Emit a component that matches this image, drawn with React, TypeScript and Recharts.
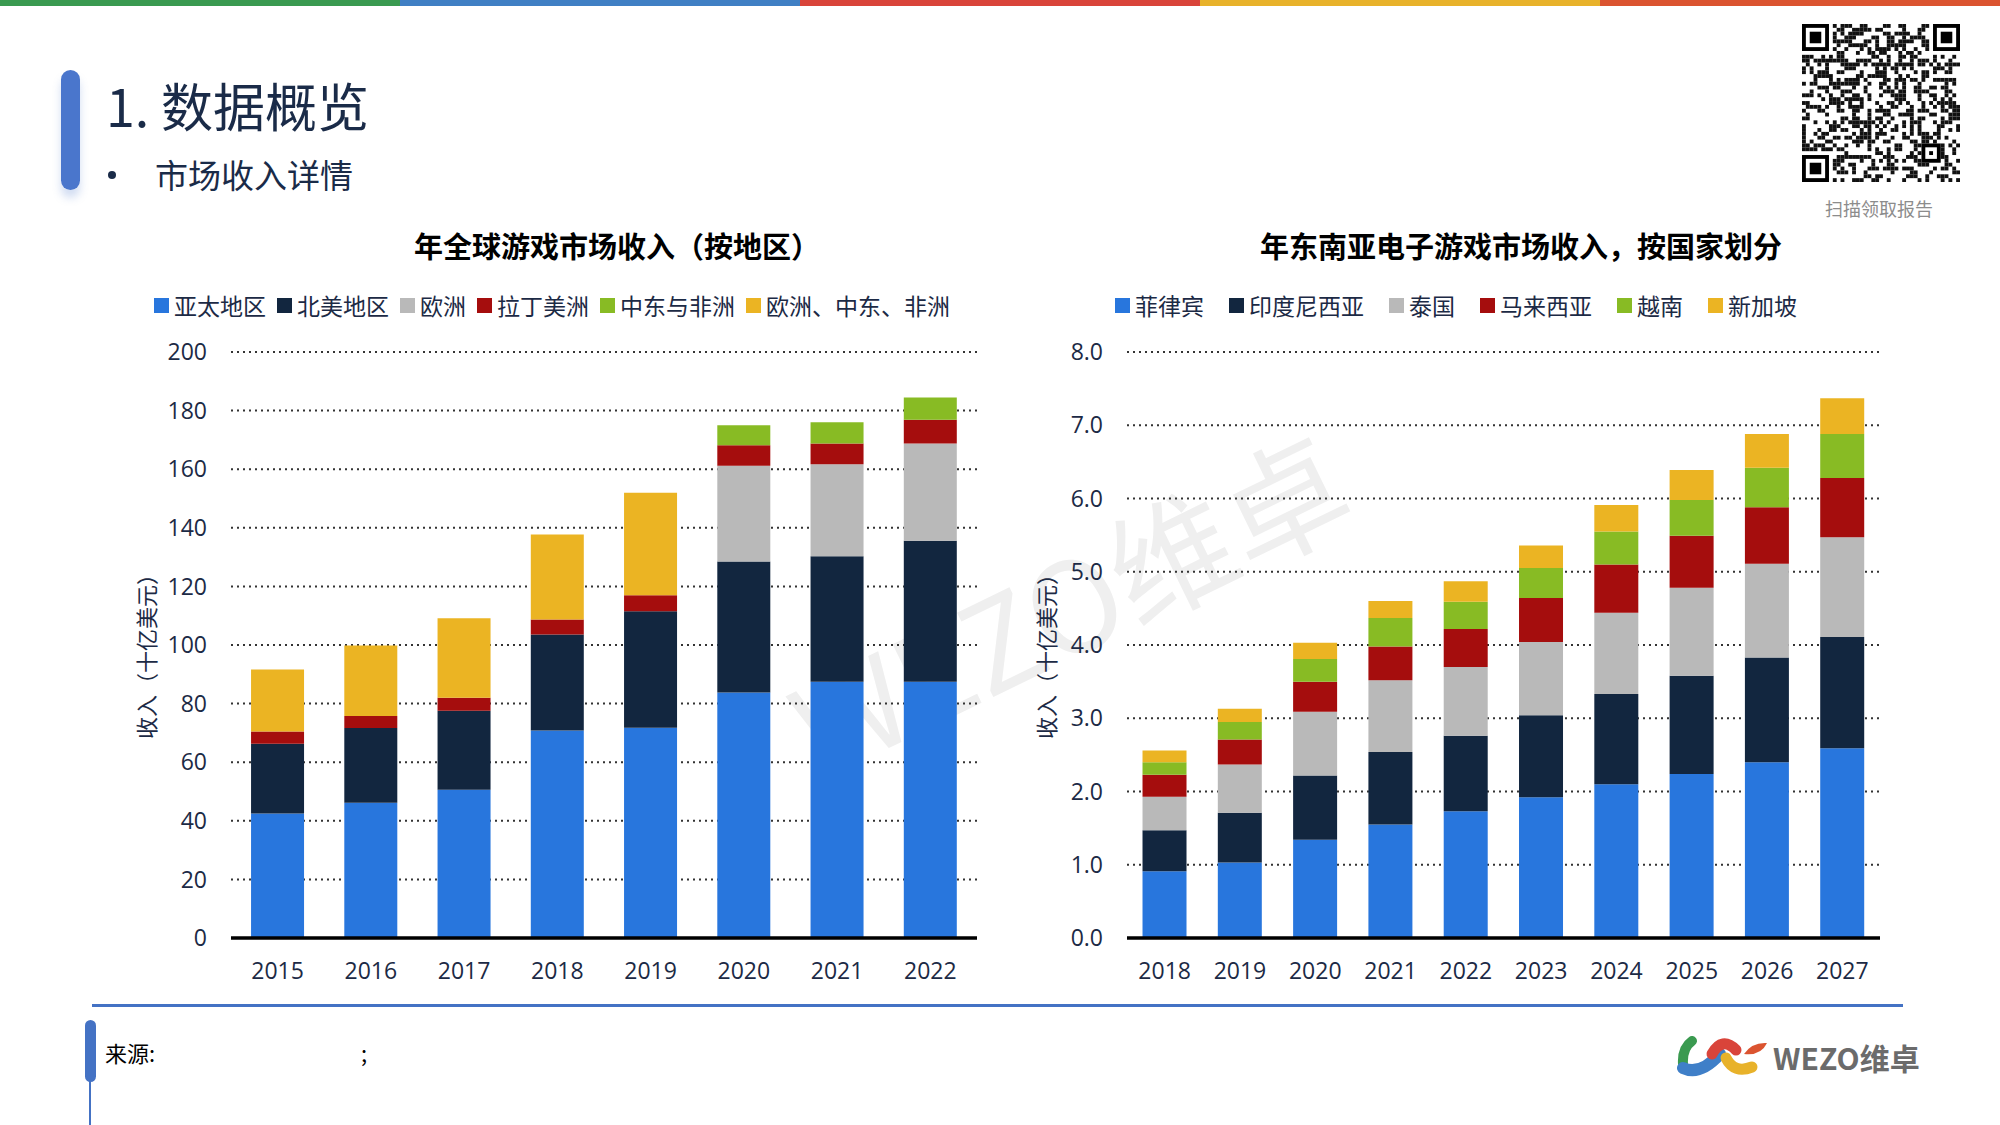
import React from 'react';
import { BarChart, Bar, XAxis, YAxis, CartesianGrid, Legend } from 'recharts';

// ---------- Data: global game market revenue by region (billion USD) ----------
const GLOBAL_YEARS = ['2015', '2016', '2017', '2018', '2019', '2020', '2021', '2022'];
const APAC = [42.5, 46.2, 50.6, 70.8, 71.8, 83.8, 87.5, 87.5];
const NORTH_AMERICA = [23.8, 25.5, 27.0, 32.8, 39.7, 44.7, 42.8, 48.1];
const EUROPE = [0, 0, 0, 0, 0, 32.7, 31.4, 33.2];
const LATAM = [4.2, 4.1, 4.4, 5.1, 5.5, 7.0, 7.1, 8.1];
const MEA = [0, 0, 0, 0, 0, 6.8, 7.2, 7.6];
const EMEA = [21.1, 24.0, 27.1, 29.0, 35.0, 0, 0, 0];
const GLOBAL_TICKS = [0, 20, 40, 60, 80, 100, 120, 140, 160, 180, 200];

// ---------- Data: Southeast Asia video game revenue by country (billion USD) ----------
const SEA_YEARS = ['2018', '2019', '2020', '2021', '2022', '2023', '2024', '2025', '2026', '2027'];
const PHILIPPINES = [0.91, 1.03, 1.34, 1.55, 1.73, 1.92, 2.10, 2.24, 2.40, 2.59];
const INDONESIA = [0.56, 0.68, 0.88, 0.99, 1.03, 1.12, 1.23, 1.34, 1.43, 1.52];
const THAILAND = [0.46, 0.66, 0.87, 0.98, 0.94, 1.00, 1.11, 1.20, 1.28, 1.36];
const MALAYSIA = [0.30, 0.34, 0.41, 0.46, 0.52, 0.60, 0.66, 0.71, 0.77, 0.81];
const VIETNAM = [0.17, 0.24, 0.31, 0.39, 0.37, 0.41, 0.45, 0.49, 0.54, 0.60];
const SINGAPORE = [0.16, 0.18, 0.22, 0.23, 0.28, 0.31, 0.36, 0.41, 0.46, 0.49];
const SEA_TICKS = [0, 1, 2, 3, 4, 5, 6, 7, 8];

const COLORS = ['#2876dd', '#12263f', '#b9b9b9', '#a50d0d', '#88bb24', '#ebb423'];

const GLOBAL_SERIES = [
  { key: 'apac', name: '亚太地区', values: APAC },
  { key: 'na', name: '北美地区', values: NORTH_AMERICA },
  { key: 'eu', name: '欧洲', values: EUROPE },
  { key: 'latam', name: '拉丁美洲', values: LATAM },
  { key: 'mea', name: '中东与非洲', values: MEA },
  { key: 'emea', name: '欧洲、中东、非洲', values: EMEA },
];
const SEA_SERIES = [
  { key: 'ph', name: '菲律宾', values: PHILIPPINES },
  { key: 'id', name: '印度尼西亚', values: INDONESIA },
  { key: 'th', name: '泰国', values: THAILAND },
  { key: 'my', name: '马来西亚', values: MALAYSIA },
  { key: 'vn', name: '越南', values: VIETNAM },
  { key: 'sg', name: '新加坡', values: SINGAPORE },
];

const FONT = '"Open Sans", "Noto Sans CJK SC", sans-serif';
const CJK = '"Noto Sans CJK SC", "Open Sans", sans-serif';
const NAVY = '#1c2a45';

function buildRows(years: string[], series: { key: string; values: number[] }[]) {
  return years.map((y, i) => {
    const row: Record<string, any> = { year: y };
    series.forEach((s) => (row[s.key] = s.values[i]));
    return row;
  });
}

const makeLegend = (gap: number, order: string[]) => (props: any) => {
  const payload = [...(props.payload || [])].sort(
    (a: any, b: any) => order.indexOf(String(a.dataKey)) - order.indexOf(String(b.dataKey))
  );
  return (
    <div style={{ display: 'flex', justifyContent: 'center', alignItems: 'center', whiteSpace: 'nowrap', fontFamily: CJK }}>
      {payload.map((p: any, i: number) => (
        <div key={i} style={{ display: 'flex', alignItems: 'center', marginRight: i < payload.length - 1 ? gap : 0 }}>
          <span style={{ display: 'inline-block', width: 15, height: 15, background: p.color, marginRight: 5 }} />
          <span style={{ fontSize: 23, color: NAVY, lineHeight: '26px' }}>{p.value}</span>
        </div>
      ))}
    </div>
  );
};

const yTitle = (props: any) => {
  const vb = props.viewBox || { x: 0, y: 0, width: 0, height: 0 };
  const cx = vb.x + 45;
  const cy = vb.y + vb.height / 2 + 6;
  return (
    <text x={cx} y={cy} transform={`rotate(-90, ${cx}, ${cy})`} textAnchor="middle" dominantBaseline="central"
      fill={NAVY} fontSize={22} fontFamily={CJK}>
      收入（十亿美元）
    </text>
  );
};

function StackedChart(p: {
  rows: any[]; series: { key: string; name: string }[]; left: number; yWidth: number; marginRight: number;
  domain: [number, number]; ticks: number[]; fmt: (v: number) => string; catGap: string; legendGap: number; legendLeft: number;
}) {
  const order = p.series.map((s) => s.key);
  return (
    <div style={{ position: 'absolute', left: p.left, top: 280 }}>
      <BarChart width={900} height={720} data={p.rows} margin={{ top: 72, right: p.marginRight, bottom: 0, left: 0 }}
        barCategoryGap={p.catGap}>
        <CartesianGrid vertical={false} stroke="#333" strokeWidth={2} strokeDasharray="2 4" />
        <XAxis dataKey="year" interval={0} height={62} tickLine={false} tickSize={0} tickMargin={25}
          axisLine={{ stroke: '#000', strokeWidth: 3.5 }} tick={{ fill: NAVY, fontSize: 23, fontFamily: FONT }} />
        <YAxis domain={p.domain} ticks={p.ticks} tickFormatter={p.fmt} width={p.yWidth} axisLine={false}
          tickLine={false} tickSize={0} tickMargin={24} interval={0} allowDataOverflow
          tick={{ fill: NAVY, fontSize: 23, fontFamily: FONT }} label={{ content: yTitle }} />
        <Legend layout="horizontal" verticalAlign="middle" align="center" content={makeLegend(p.legendGap, order)}
          wrapperStyle={{ top: 12, left: p.legendLeft, width: 900, height: 26 }} />
        {p.series.map((s, i) => (
          <Bar key={s.key} dataKey={s.key} name={s.name} stackId="a" fill={COLORS[i]} isAnimationActive={false} />
        ))}
      </BarChart>
    </div>
  );
}

function QRCode() {
  const N = 41;
  const m = 158 / N;
  const cells: React.ReactElement[] = [];
  const inFinder = (r: number, c: number) =>
    (r < 8 && c < 8) || (r < 8 && c >= N - 8) || (r >= N - 8 && c < 8);
  const finder = (r0: number, c0: number, k: string) => (
    <g key={k}>
      <rect x={c0 * m} y={r0 * m} width={7 * m} height={7 * m} fill="#000" />
      <rect x={(c0 + 1) * m} y={(r0 + 1) * m} width={5 * m} height={5 * m} fill="#fff" />
      <rect x={(c0 + 2) * m} y={(r0 + 2) * m} width={3 * m} height={3 * m} fill="#000" />
    </g>
  );
  const hash = (r: number, c: number) => {
    let h = (r * 374761393 + c * 668265263) | 0;
    h = Math.imul(h ^ (h >>> 13), 1274126177);
    h = h ^ (h >>> 16);
    return (h >>> 0) % 100;
  };
  for (let r = 0; r < N; r++) {
    for (let c = 0; c < N; c++) {
      if (inFinder(r, c)) continue;
      if (r >= N - 10 && r < N - 5 && c >= N - 10 && c < N - 5) continue;
      if (hash(r, c) < 45) cells.push(<rect key={`${r}-${c}`} x={c * m} y={r * m} width={m} height={m} fill="#111" />);
    }
  }
  const a = N - 10;
  return (
    <svg width={160} height={160} style={{ position: 'absolute', left: 1802, top: 24 }}>
      <rect width={160} height={160} fill="#fff" />
      {cells}
      {finder(0, 0, 'f1')}
      {finder(0, N - 7, 'f2')}
      {finder(N - 7, 0, 'f3')}
      <rect x={a * m} y={a * m} width={5 * m} height={5 * m} fill="#000" />
      <rect x={(a + 1) * m} y={(a + 1) * m} width={3 * m} height={3 * m} fill="#fff" />
      <rect x={(a + 2) * m} y={(a + 2) * m} width={m} height={m} fill="#000" />
    </svg>
  );
}

function Logo() {
  return (
    <div style={{ position: 'absolute', left: 1676, top: 1036 }}>
      <svg width={96} height={42} style={{ position: 'absolute', left: 0, top: 0 }}>
        <path d="M7 28 Q6 12 16 5" stroke="#3a9a50" strokeWidth={10} fill="none" strokeLinecap="round" />
        <path d="M7 32 Q24 40 44 18" stroke="#3f7fc8" strokeWidth={12} fill="none" strokeLinecap="round" />
        <path d="M36 18 Q46 0 60 14" stroke="#d9443a" strokeWidth={11} fill="none" strokeLinecap="round" />
        <path d="M50 22 Q58 38 76 31" stroke="#e8b22a" strokeWidth={11} fill="none" strokeLinecap="round" />
        <path d="M68 18 Q76 6 91 7 Q85 20 68 18 Z" fill="#db5430" />
      </svg>
      <div style={{ position: 'absolute', left: 97, top: 3, fontFamily: CJK, fontSize: 30, fontWeight: 700, color: '#6b6b6b', whiteSpace: 'nowrap', lineHeight: '36px' }}>
        WEZO维卓
      </div>
    </div>
  );
}

export default function App() {
  const globalRows = buildRows(GLOBAL_YEARS, GLOBAL_SERIES);
  const seaRows = buildRows(SEA_YEARS, SEA_SERIES);
  const topColors = ['#3a9a50', '#3f7fc4', '#d9443a', '#e8b22a', '#db5430'];
  return (
    <div style={{ position: 'absolute', left: 0, top: 0, width: 2000, height: 1125, background: '#fff', overflow: 'hidden', fontFamily: FONT }}>
      {/* watermark */}
      <svg width={2000} height={1125} style={{ position: 'absolute', left: 0, top: 0 }}>
        <text x={1068} y={600} textAnchor="middle" dominantBaseline="central" transform="rotate(-26, 1068, 600)"
          fontSize={125} fill="#efefef" fontFamily={CJK}>WEZO维卓</text>
      </svg>

      {/* top colour strip */}
      {topColors.map((c, i) => (
        <div key={c} style={{ position: 'absolute', left: i * 400, top: 0, width: 400, height: 6, background: c }} />
      ))}

      {/* header */}
      <div style={{ position: 'absolute', left: 61, top: 70, width: 19, height: 120, borderRadius: 10, background: '#4a76cc', boxShadow: '0 8px 8px rgba(74,118,204,0.25)' }} />
      <div style={{ position: 'absolute', left: 106, top: 77, fontFamily: CJK, fontSize: 52, lineHeight: '56px', color: '#1a2b48', whiteSpace: 'nowrap' }}>
        1. 数据概览
      </div>
      <div style={{ position: 'absolute', left: 108, top: 171, width: 8, height: 8, borderRadius: 4, background: '#1a2b48' }} />
      <div style={{ position: 'absolute', left: 155, top: 156, fontFamily: CJK, fontSize: 33, lineHeight: '36px', color: '#1a2b48', whiteSpace: 'nowrap' }}>
        市场收入详情
      </div>

      <QRCode />
      <div style={{ position: 'absolute', left: 1779, top: 197, width: 200, textAlign: 'center', fontFamily: CJK, fontSize: 18, lineHeight: '22px', color: '#8c8c8c' }}>
        扫描领取报告
      </div>

      {/* chart titles */}
      <div style={{ position: 'absolute', left: 317, top: 228, width: 600, textAlign: 'center', fontFamily: CJK, fontSize: 29, fontWeight: 700, lineHeight: '34px', color: '#000', whiteSpace: 'nowrap' }}>
        年全球游戏市场收入（按地区）
      </div>
      <div style={{ position: 'absolute', left: 1121, top: 228, width: 800, textAlign: 'center', fontFamily: CJK, fontSize: 29, fontWeight: 700, lineHeight: '34px', color: '#000', whiteSpace: 'nowrap' }}>
        年东南亚电子游戏市场收入，按国家划分
      </div>

      <StackedChart rows={globalRows} series={GLOBAL_SERIES} left={100} yWidth={131} marginRight={23}
        domain={[0, 200]} ticks={GLOBAL_TICKS} fmt={(v) => String(v)} catGap="21.5%" legendGap={11} legendLeft={2} />
      <StackedChart rows={seaRows} series={SEA_SERIES} left={1000} yWidth={127} marginRight={20}
        domain={[0, 8]} ticks={SEA_TICKS} fmt={(v) => v.toFixed(1)} catGap="20.6%" legendGap={25} legendLeft={6} />

      {/* footer */}
      <div style={{ position: 'absolute', left: 92, top: 1004, width: 1811, height: 3, background: '#4472c4' }} />
      <div style={{ position: 'absolute', left: 85, top: 1020, width: 11, height: 62, borderRadius: 6, background: '#4472c4' }} />
      <div style={{ position: 'absolute', left: 89, top: 1080, width: 2, height: 45, background: '#4472c4' }} />
      <div style={{ position: 'absolute', left: 105, top: 1038, fontFamily: CJK, fontSize: 22, lineHeight: '28px', color: '#000', whiteSpace: 'nowrap' }}>
        来源:
      </div>
      <div style={{ position: 'absolute', left: 361, top: 1038, fontFamily: CJK, fontSize: 22, lineHeight: '28px', color: '#000' }}>
        ;
      </div>
      <Logo />
    </div>
  );
}
